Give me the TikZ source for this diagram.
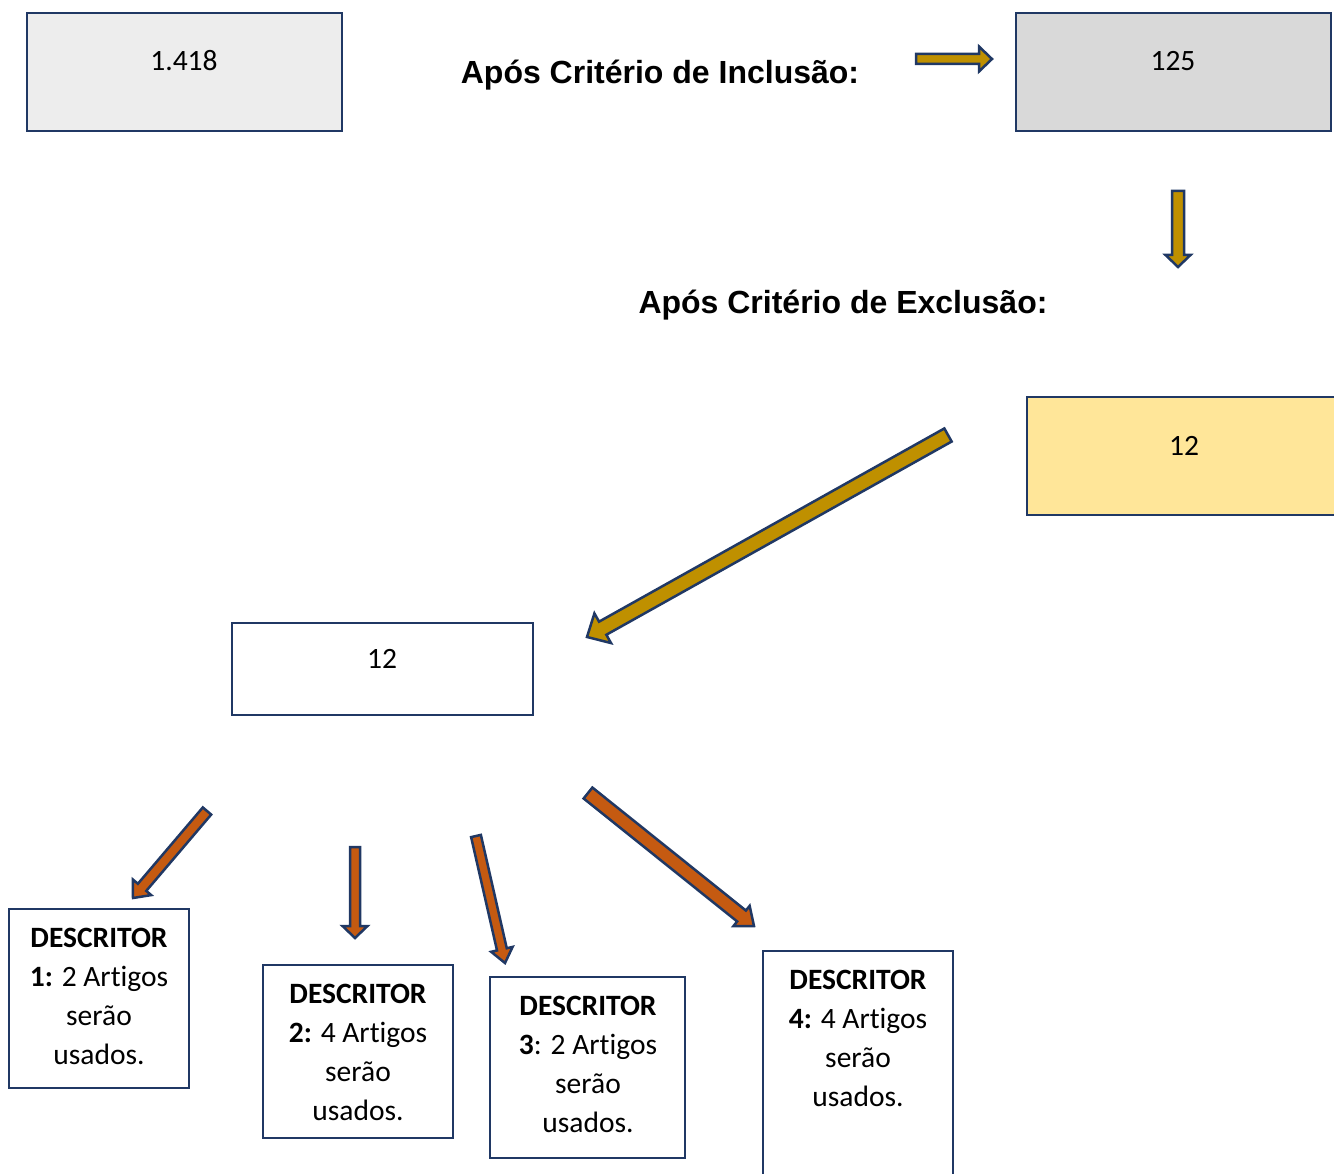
\documentclass[tikz,border=0pt]{standalone}
\usepackage{fontspec}
\setmainfont[Ligatures=NoCommon]{Carlito}
\newfontfamily\headfont{Liberation Sans}
\usetikzlibrary{calc}
\definecolor{navy}{HTML}{203864}
\definecolor{grayA}{HTML}{EDEDED}
\definecolor{grayB}{HTML}{D9D9D9}
\definecolor{yell}{HTML}{FFE699}
\definecolor{gold}{HTML}{BF9000}
\definecolor{rust}{HTML}{C55A11}
% block arrow: #1 tail coord, #2 tip coord, #3 shaft width, #4 head width, #5 head length, #6 fill colour
\newcommand\blkarrow[6]{%
  \pgfmathsetmacro\bhs{#3/2}%
  \pgfmathsetmacro\bhh{#4/2}%
  \coordinate (hb) at ($(#2)!#5pt!(#1)$);
  \draw[arrowline, fill=#6]
    ($(#1)!\bhs pt!90:(#2)$) -- ($(hb)!\bhs pt!90:(#2)$) -- ($(hb)!\bhh pt!90:(#2)$) -- (#2)
    -- ($(hb)!\bhh pt!-90:(#2)$) -- ($(hb)!\bhs pt!-90:(#2)$) -- ($(#1)!\bhs pt!-90:(#2)$) -- cycle;
}
\begin{document}
\begin{tikzpicture}[x=1pt,y=-1pt,
  box/.style={draw=navy, line width=2.8pt, rectangle, inner sep=0pt},
  numtxt/.style={font=\fontsize{29.5}{35}\selectfont, anchor=base, inner sep=0pt},
  head/.style={font=\headfont\bfseries\fontsize{32}{38}\selectfont, anchor=base, inner sep=0pt},
  desc/.style={font=\fontsize{29.5}{38.7}\selectfont, align=center, anchor=base, inner sep=0pt},
  arrowline/.style={draw=navy, line width=2.5pt, line join=miter}]
\useasboundingbox (0,0) rectangle (1334,1174);

% boxes
\node[box, fill=grayA, minimum width=315pt, minimum height=118pt] (b1) at (184.5,72) {};
\node[box, fill=grayB, minimum width=315pt, minimum height=118pt] (b2) at (1173.5,72) {};
\node[box, fill=yell, minimum width=315pt, minimum height=118pt] (b3) at (1184.5,456) {};
\node[box, fill=white, minimum width=301pt, minimum height=92pt] (b4) at (382.5,669) {};
\node[box, minimum width=180pt, minimum height=179pt] (d1) at (99,998.5) {};
\node[box, minimum width=190pt, minimum height=173pt] (d2) at (358,1051.5) {};
\node[box, minimum width=195pt, minimum height=181pt] (d3) at (587.5,1067.5) {};
\node[box, minimum width=190pt, minimum height=249pt] (d4) at (858,1075.5) {};

% numbers
\node[numtxt] (t1) at (184,71) {1.418};
\node[numtxt] (t2) at (1173,71) {125};
\node[numtxt] (t3) at (1184,455) {12};
\node[numtxt] (t4) at (382,668) {12};

% headings
\node[head] (h1) at (660,84) {Após Critério de Inclusão:};
\node[head] (h2) at (843,314) {Após Critério de Exclusão:};

% descriptor texts (base = baseline of last line)
\node[desc] (d1t) at (99,1064) {\textbf{DESCRITOR}\\\textbf{1:} 2 Artigos\\serão\\usados.};
\node[desc] (d2t) at (358,1120) {\textbf{DESCRITOR}\\\textbf{2:} 4 Artigos\\serão\\usados.};
\node[desc] (d3t) at (588,1132) {\textbf{DESCRITOR}\\\textbf{3}: 2 Artigos\\serão\\usados.};
\node[desc] (d4t) at (858,1106) {\textbf{DESCRITOR}\\\textbf{4:} 4 Artigos\\serão\\usados.};

% arrow end points
\coordinate (g1s) at (916,59);   \coordinate (g1e) at (992,59);
\coordinate (g2s) at (1178,191); \coordinate (g2e) at (1178,267);
\coordinate (g3s) at (948,435);  \coordinate (g3e) at (587,637);
\coordinate (o1s) at (207,811);  \coordinate (o1e) at (133,898);
\coordinate (o2s) at (355,847);  \coordinate (o2e) at (355,938);
\coordinate (o3s) at (476,836);  \coordinate (o3e) at (505,963);
\coordinate (o4s) at (588,793);  \coordinate (o4e) at (754,926);

\blkarrow{g1s}{g1e}{10}{25}{13}{gold}
\blkarrow{g2s}{g2e}{12}{25}{12}{gold}
\blkarrow{g3s}{g3e}{15}{34}{18}{gold}
\blkarrow{o1s}{o1e}{11}{24}{14}{rust}
\blkarrow{o2s}{o2e}{10}{25}{12}{rust}
\blkarrow{o3s}{o3e}{10}{22}{14}{rust}
\blkarrow{o4s}{o4e}{14}{26}{16}{rust}
\end{tikzpicture}
\end{document}
